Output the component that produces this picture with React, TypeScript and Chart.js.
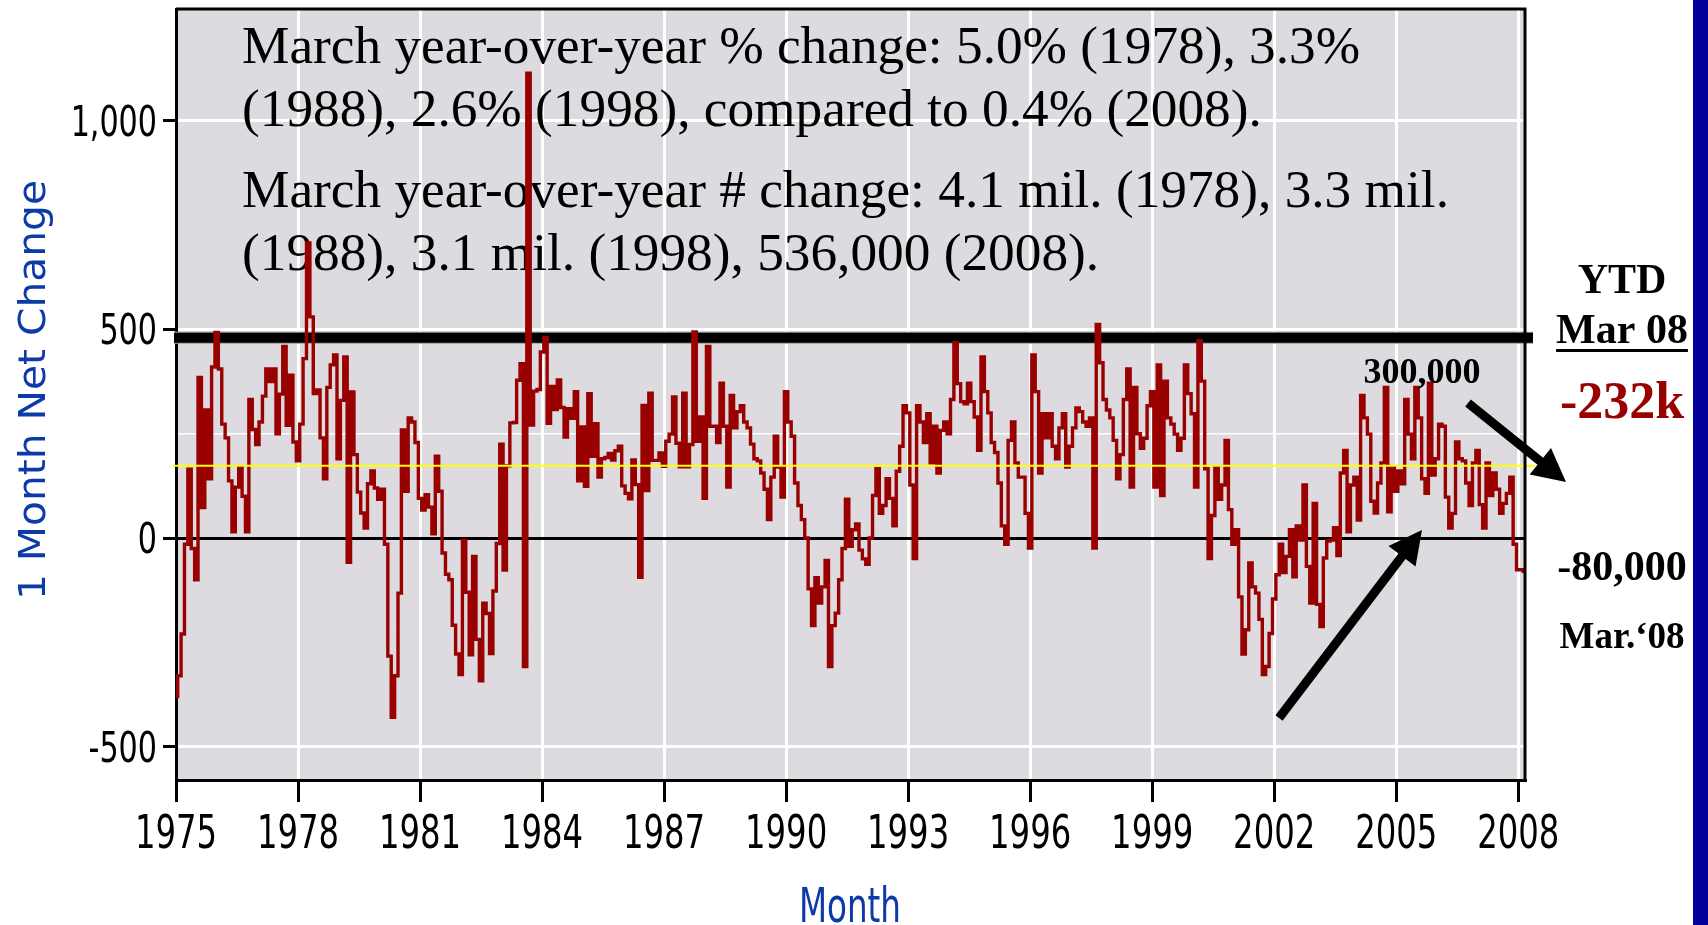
import React, { useEffect, useRef } from "react";
import { Chart, registerables } from "chart.js";

Chart.register(...registerables);

// ---- Data: monthly net change in payroll employment (thousands), Jan 1975 - Mar 2008 ----
const y1975 = [-380, -330, -230, -15, 165, -25, -100, 385, 73, 307, 142, 410];
const y1976 = [493, 405, 273, 240, 137, 15, 122, 170, 100, 15, 332, 260];
const y1977 = [224, 278, 340, 405, 375, 405, 250, 345, 459, 270, 390, 230];
const y1978 = [185, 273, 430, 707, 530, 346, 355, 240, 142, 361, 415, 439];
const y1979 = [190, 330, 434, -58, 350, 200, 110, 60, 24, 130, 161, 120];
const y1980 = [93, 117, -15, -283, -430, -330, -132, 259, 112, 288, 278, 229];
const y1981 = [95, 67, 104, 74, 10, 196, 112, -36, -87, -100, -209, -278];
const y1982 = [-327, -6, -130, -280, -44, -243, -342, -156, -181, -277, -127, -13];
const y1983 = [225, -77, 173, 276, 277, 378, 418, -308, 1114, 271, 352, 356];
const y1984 = [446, 481, 275, 363, 308, 379, 313, 242, 310, 287, 351, 137];
const y1985 = [266, 124, 346, 196, 274, 146, 190, 193, 203, 187, 209, 220];
const y1986 = [125, 107, 94, 187, 128, -94, 318, 114, 347, 186, 186, 204];
const y1987 = [172, 232, 249, 338, 227, 171, 347, 171, 224, 494, 232, 290];
const y1988 = [95, 459, 268, 268, 229, 371, 268, 122, 342, 264, 303, 317];
const y1989 = [278, 264, 225, 190, 185, 156, 117, 44, 146, 244, 170, 98];
const y1990 = [351, 278, 244, 132, 78, 44, 0, -122, -210, -95, -156, -117];
const y1991 = [-54, -308, -210, -180, -100, -25, 93, -20, 20, 34, -29, -50];
const y1992 = [-63, 0, 102, 166, 59, 78, 142, 95, 29, 160, 220, 317];
const y1993 = [300, 127, -49, 317, 278, 229, 298, 180, 268, 156, 258, 278];
const y1994 = [250, 332, 468, 370, 327, 322, 371, 327, 290, 210, 434, 351];
const y1995 = [300, 229, 205, 132, 29, -15, 234, 278, 180, 146, 146, 59];
const y1996 = [-24, 439, 351, 156, 298, 240, 298, 220, 190, 264, 298, 170];
const y1997 = [220, 264, 312, 303, 278, 268, 288, -24, 512, 420, 332, 307];
const y1998 = [288, 234, 142, 200, 332, 405, 122, 361, 250, 215, 239, 317];
const y1999 = [351, 122, 415, 102, 376, 288, 273, 249, 210, 239, 415, 346];
const y2000 = [298, 122, 473, 376, 166, -49, 54, 170, 93, 127, 234, 68];
const y2001 = [-15, 20, -141, -278, -220, -60, -117, -132, -195, -327, -308, -229];
const y2002 = [-146, -88, -15, -83, -44, 20, -93, 29, -5, 127, -68, -156];
const y2003 = [83, -159, -212, -48, -7, -5, 25, -42, 156, 210, 15, 127];
const y2004 = [146, 43, 342, 288, 249, 88, 60, 132, 180, 361, 63, 170];
const y2005 = [112, 161, 130, 332, 249, 190, 361, 288, 142, 107, 371, 151];
const y2006 = [190, 273, 268, 98, 24, 59, 230, 190, 185, 132, 78, 180];
const y2007 = [210, 80, 24, 180, 102, 156, 117, 59, 83, 107, 146, -15];
const y2008 = [-76, -76, -80];

const yearlySeries = [
  y1975, y1976, y1977, y1978, y1979, y1980, y1981, y1982, y1983, y1984, y1985,
  y1986, y1987, y1988, y1989, y1990, y1991, y1992, y1993, y1994, y1995, y1996,
  y1997, y1998, y1999, y2000, y2001, y2002, y2003, y2004, y2005, y2006, y2007, y2008,
];
const monthlyChange = yearlySeries.flat();

const firstYear = 1975;
const xTickYears = [1975, 1978, 1981, 1984, 1987, 1990, 1993, 1996, 1999, 2002, 2005, 2008];
const yTickValues = [-500, 0, 250, 500, 1000];
const yLabelValues = [-500, 0, 500, 1000];
const yMin = -580;
const yMax = 1268;
const thickLineValue = 480;
const yellowLineValue = 173;

const noteLines = [
  "March year-over-year % change: 5.0% (1978), 3.3%",
  "(1988), 2.6% (1998), compared to 0.4% (2008).",
  "March year-over-year # change: 4.1 mil. (1978), 3.3 mil.",
  "(1988), 3.1 mil. (1998), 536,000 (2008).",
];
const ytdTitle = "YTD";
const ytdMonth = "Mar 08";
const ytdValue = "-232k";
const monthValue = "-80,000";
const monthLabel = "Mar.\u201808";
const peakLabel = "300,000";
const yAxisTitle = "1 Month Net Change";
const xAxisTitle = "Month";

const NARROW = "'Liberation Sans Narrow', 'Arial Narrow', 'DejaVu Sans Condensed', sans-serif";
const SERIF = "'Liberation Serif', 'Times New Roman', serif";
const BLUE = "#0c3aa8";
const RED = "#990000";
const TICK_SX = 0.78;

const fmtX = (v: number) => String(firstYear + Math.round(v / 12));
const fmtY = (v: number) => (yLabelValues.includes(v) ? v.toLocaleString("en-US") : "");

function fitText(ctx: CanvasRenderingContext2D, text: string, cx: number, by: number, w: number, font: string, color: string) {
  ctx.save();
  ctx.font = font;
  ctx.fillStyle = color;
  ctx.textAlign = "center";
  ctx.textBaseline = "alphabetic";
  const m = ctx.measureText(text).width;
  ctx.translate(cx, by);
  ctx.scale(w / m, 1);
  ctx.fillText(text, 0, 0);
  ctx.restore();
}

function squeezeText(ctx: CanvasRenderingContext2D, text: string, x: number, y: number, sx: number, align: CanvasTextAlign, font: string) {
  ctx.save();
  ctx.font = font;
  ctx.fillStyle = "#000";
  ctx.textAlign = align;
  ctx.textBaseline = "alphabetic";
  ctx.translate(x, y);
  ctx.scale(sx, 1);
  ctx.fillText(text, 0, 0);
  ctx.restore();
}

function arrow(ctx: CanvasRenderingContext2D, x0: number, y0: number, x1: number, y1: number, shaft: number, headLen: number, headHalf: number) {
  const dx = x1 - x0, dy = y1 - y0;
  const L = Math.hypot(dx, dy);
  const ux = dx / L, uy = dy / L;
  const px = -uy, py = ux;
  const bx = x1 - ux * headLen, by = y1 - uy * headLen;
  ctx.save();
  ctx.strokeStyle = "#000";
  ctx.lineWidth = shaft;
  ctx.lineCap = "butt";
  ctx.beginPath();
  ctx.moveTo(x0, y0);
  ctx.lineTo(bx + ux * 4, by + uy * 4);
  ctx.stroke();
  ctx.fillStyle = "#000";
  ctx.beginPath();
  ctx.moveTo(x1, y1);
  ctx.lineTo(bx + px * headHalf, by + py * headHalf);
  ctx.lineTo(bx - px * headHalf, by - py * headHalf);
  ctx.closePath();
  ctx.fill();
  ctx.restore();
}

const decorPlugin = {
  id: "decor",
  beforeDraw(chart: any) {
    const { ctx, chartArea: a } = chart;
    ctx.save();
    ctx.fillStyle = "#ffffff";
    ctx.fillRect(0, 0, chart.width, chart.height);
    ctx.fillStyle = "#dddbdf";
    ctx.fillRect(a.left, a.top, a.right - a.left, a.bottom - a.top);
    ctx.fillStyle = "#000099";
    ctx.fillRect(1693, 0, 15, chart.height);
    ctx.restore();
  },
  beforeDatasetsDraw(chart: any) {
    const { ctx, chartArea: a, scales } = chart;
    const y = scales.y.getPixelForValue(thickLineValue);
    ctx.save();
    ctx.fillStyle = "#9a9a9a";
    ctx.fillRect(a.left - 2, y - 6, 1535 - a.left, 12);
    ctx.fillStyle = "#000";
    ctx.fillRect(a.left - 2, y - 5, 1535 - a.left, 10);
    ctx.fillStyle = "#000";
    ctx.font = `53.3px ${SERIF}`;
    ctx.textAlign = "left";
    ctx.textBaseline = "alphabetic";
    const bases = [63, 126, 207, 270];
    noteLines.forEach((t, i) => ctx.fillText(t, 242, bases[i]));
    ctx.restore();
  },
  afterDatasetsDraw(chart: any) {
    const { ctx, chartArea: a, scales } = chart;
    const y = scales.y.getPixelForValue(yellowLineValue);
    ctx.save();
    ctx.strokeStyle = "#ffff00";
    ctx.lineWidth = 2;
    ctx.beginPath();
    ctx.moveTo(a.left - 3, y);
    ctx.lineTo(1535, y);
    ctx.stroke();
    ctx.strokeStyle = "#000";
    ctx.lineWidth = 3;
    ctx.beginPath();
    ctx.moveTo(a.left, a.top);
    ctx.lineTo(a.right, a.top);
    ctx.lineTo(a.right, a.bottom);
    ctx.stroke();
    ctx.restore();
  },
  afterDraw(chart: any) {
    const { ctx, scales } = chart;
    // tick labels, positioned by the chart's own scales
    const xs = scales.x;
    xs.ticks.forEach((t: any) => {
      squeezeText(ctx, fmtX(t.value), xs.getPixelForValue(t.value), 848, TICK_SX, "center", `46px ${NARROW}`);
    });
    const ys = scales.y;
    ys.ticks.forEach((t: any) => {
      const lab = fmtY(t.value);
      if (lab) squeezeText(ctx, lab, 157, ys.getPixelForValue(t.value) + 15, TICK_SX, "right", `43px ${NARROW}`);
    });

    ctx.save();
    ctx.translate(31, 390);
    ctx.rotate(-Math.PI / 2);
    fitText(ctx, yAxisTitle, 0, 14, 420, `38px 'DejaVu Sans', sans-serif`, BLUE);
    ctx.restore();
    fitText(ctx, xAxisTitle, 850, 922, 102, `48px ${NARROW}`, BLUE);

    ctx.save();
    const cx = 1622;
    ctx.fillStyle = "#000";
    ctx.textAlign = "center";
    ctx.textBaseline = "alphabetic";
    ctx.font = `bold 42px ${SERIF}`;
    ctx.fillText(ytdTitle, cx, 293);
    ctx.fillText(ytdMonth, cx, 343);
    const w = ctx.measureText(ytdMonth).width;
    ctx.fillRect(cx - w / 2, 349, w, 3);
    ctx.fillStyle = RED;
    ctx.font = `bold 52px ${SERIF}`;
    ctx.fillText(ytdValue, cx, 418);
    ctx.fillStyle = "#000";
    ctx.font = `bold 42px ${SERIF}`;
    ctx.fillText(monthValue, cx, 580);
    ctx.font = `bold 37px ${SERIF}`;
    ctx.fillText(monthLabel, cx, 648);
    ctx.font = `bold 36px ${SERIF}`;
    ctx.fillText(peakLabel, 1422, 383);
    ctx.restore();

    arrow(ctx, 1279, 718, 1422, 530, 9, 33, 17);
    arrow(ctx, 1468, 403, 1566, 482, 9, 33, 17);
  },
};

export default function App() {
  const ref = useRef<HTMLCanvasElement | null>(null);
  useEffect(() => {
    if (!ref.current) return;
    const points = monthlyChange.map((v, i) => ({ x: i, y: v }));
    const chart = new Chart(ref.current, {
      type: "line",
      data: {
        datasets: [
          {
            label: "1 Month Net Change",
            data: points,
            borderColor: RED,
            borderWidth: 3.4,
            stepped: "middle",
            pointRadius: 0,
            fill: false,
          },
        ],
      },
      options: {
        animation: false,
        responsive: false,
        devicePixelRatio: 1,
        layout: { padding: { left: 0, top: 9, right: 183, bottom: 0 } },
        plugins: { legend: { display: false }, tooltip: { enabled: false }, title: { display: false } },
        scales: {
          x: {
            type: "linear",
            min: 0,
            max: monthlyChange.length - 1,
            afterBuildTicks: (axis: any) => {
              axis.ticks = xTickYears.map((yr) => ({ value: (yr - firstYear) * 12 }));
            },
            afterFit: (scale: any) => {
              scale.height = 145;
              scale.paddingLeft = 0;
              scale.paddingRight = 0;
            },
            ticks: { display: false, autoSkip: false, callback: (v: any) => fmtX(Number(v)) },
            grid: {
              color: "#ffffff",
              lineWidth: 3,
              tickColor: "#000",
              tickLength: 22,
              tickWidth: 3,
            },
            border: { display: true, color: "#000", width: 3 },
          },
          y: {
            type: "linear",
            min: yMin,
            max: yMax,
            afterBuildTicks: (axis: any) => {
              axis.ticks = yTickValues.map((v) => ({ value: v }));
            },
            afterFit: (scale: any) => {
              scale.width = 176;
              scale.paddingTop = 0;
              scale.paddingBottom = 0;
            },
            ticks: { display: false, callback: (v: any) => fmtY(Number(v)) },
            grid: {
              color: (c: any) => (c.tick && c.tick.value === 0 ? "#000" : "#ffffff"),
              lineWidth: (c: any) => (c.tick && c.tick.value === 250 ? 1.5 : 3),
              tickColor: (c: any) => (c.tick && c.tick.value === 250 ? "rgba(0,0,0,0)" : "#000"),
              tickLength: 13,
              tickWidth: 3,
            },
            border: { display: true, color: "#000", width: 3 },
          },
        },
      },
      plugins: [decorPlugin],
    } as any);
    return () => chart.destroy();
  }, []);
  return (
    <div style={{ position: "absolute", left: 0, top: 0, width: 1708, height: 925, background: "#fff" }}>
      <canvas ref={ref} width={1708} height={925} style={{ width: 1708, height: 925, display: "block" }} />
    </div>
  );
}
